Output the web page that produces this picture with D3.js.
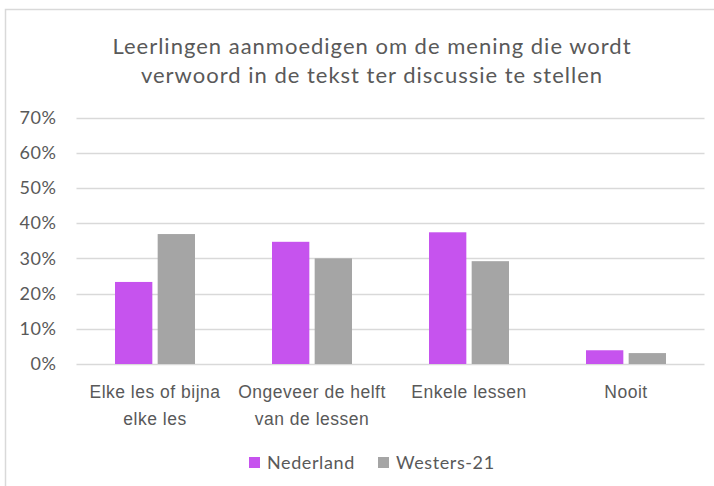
<!DOCTYPE html>
<html><head><meta charset="utf-8">
<script src="https://cdn.jsdelivr.net/npm/d3@7"></script>
<style>
body{margin:0;background:#fff;}
svg{display:block;font-family:Lato,"Noto Sans",sans-serif;}
</style></head>
<body><svg id="c" width="714" height="486"></svg>
<script>
const titleLines = ["Leerlingen aanmoedigen om de mening die wordt", "verwoord in de tekst ter discussie te stellen"];
const categories = [["Elke les of bijna","elke les"],["Ongeveer de helft","van de lessen"],["Enkele lessen"],["Nooit"]];
const seriesNames = ["Nederland","Westers-21"];
const nederland = [0.233, 0.347, 0.374, 0.039];
const westers21 = [0.369, 0.300, 0.292, 0.031];
const yTicks = [0,0.1,0.2,0.3,0.4,0.5,0.6,0.7];
const colors = ["#c653ee","#a5a5a5"];

const svg = d3.select("#c");
const textColor = "#595959";

// chart border
svg.append("path").attr("d","M5.5,486 V9.5 H714").attr("fill","none").attr("stroke","#d9d9d9").attr("stroke-width",1.5);

const x = d3.scaleBand().domain(d3.range(categories.length)).range([76.5,704.5]).paddingInner(0).paddingOuter(0);
const y = d3.scaleLinear().domain([0,0.7]).range([364,117.5]);

const inner = d3.scaleBand().domain([0,1]).range([x.bandwidth()/2-40, x.bandwidth()/2+40]).paddingInner(10/80);

// gridlines
svg.append("g").selectAll("line").data(yTicks).join("line")
  .attr("x1",76.5).attr("x2",704.5).attr("y1",d=>Math.round(y(d))+0.5).attr("y2",d=>Math.round(y(d))+0.5)
  .attr("stroke","#d9d9d9").attr("stroke-width",1.5);
const yAxis = d3.axisLeft(y).tickValues(yTicks).tickFormat(d3.format(".0%")).tickSize(0).tickPadding(20);
const ga = svg.append("g").attr("transform","translate(76.5,0)").call(yAxis);
ga.select(".domain").remove();
ga.selectAll("text").attr("fill",textColor).attr("font-size",18).attr("letter-spacing",0.6).attr("font-family","Lato,sans-serif");

// bars
const series = [nederland, westers21];
series.forEach((vals,si)=>{
  svg.append("g").selectAll("rect").data(vals).join("rect")
    .attr("x",(d,i)=>x(i)+inner(si))
    .attr("width",inner.bandwidth())
    .attr("y",d=>y(d))
    .attr("height",d=>y(0)-y(d))
    .attr("fill",colors[si]);
});

// category labels
const xAxis = d3.axisBottom(x).tickSize(0).tickFormat("");
const gx = svg.append("g").attr("transform","translate(0,364)").call(xAxis);
gx.select(".domain").remove();
gx.selectAll(".tick").each(function(i){
  const t = d3.select(this).append("text").attr("fill",textColor).attr("font-size",17.5).attr("letter-spacing",0.5).attr("text-anchor","middle");
  categories[i].forEach((ln,k)=>t.append("tspan").attr("x",0).attr("y",34+k*27).text(ln));
});

// title
const tt = svg.append("text").attr("fill",textColor).attr("font-size",22).attr("letter-spacing",1.0).attr("text-anchor","middle");
titleLines.forEach((ln,k)=>tt.append("tspan").attr("x",372).attr("y",54+k*29).text(ln));

// legend
const lx = [249,378];
const lg = svg.append("g");
seriesNames.forEach((n,i)=>{
  lg.append("rect").attr("x",lx[i]).attr("y",457).attr("width",11).attr("height",11).attr("fill",colors[i]);
  lg.append("text").attr("x",lx[i]+18).attr("y",469).attr("fill",textColor).attr("font-size",18).attr("letter-spacing",0.6).text(n);
});
</script></body></html>
